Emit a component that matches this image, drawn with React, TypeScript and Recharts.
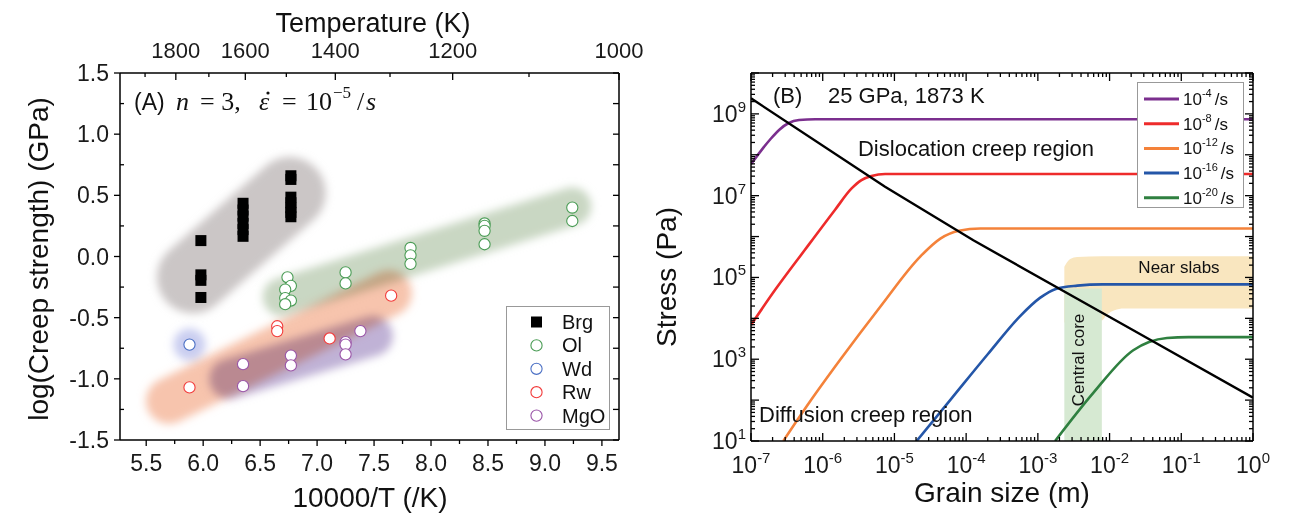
import React from 'react';
import { ComposedChart, Scatter, Line, Area, XAxis, YAxis, ReferenceArea } from 'recharts';

const FONT = '"Liberation Sans", Arial, sans-serif';
const SERIF = '"Liberation Serif", "Times New Roman", serif';

// ---------- Panel A: log(creep strength) vs 10000/T ----------
const brg = [
  { x: 5.98, y: 0.13 }, { x: 5.98, y: -0.15 }, { x: 5.98, y: -0.195 }, { x: 5.98, y: -0.335 },
  { x: 6.35, y: 0.435 }, { x: 6.35, y: 0.38 }, { x: 6.35, y: 0.33 }, { x: 6.35, y: 0.27 },
  { x: 6.35, y: 0.22 }, { x: 6.35, y: 0.165 },
  { x: 6.77, y: 0.66 }, { x: 6.77, y: 0.63 }, { x: 6.77, y: 0.485 }, { x: 6.77, y: 0.44 },
  { x: 6.77, y: 0.4 }, { x: 6.77, y: 0.36 }, { x: 6.77, y: 0.325 },
];
const ol = [
  { x: 6.74, y: -0.17 }, { x: 6.77, y: -0.24 }, { x: 6.72, y: -0.27 }, { x: 6.72, y: -0.34 },
  { x: 6.77, y: -0.36 }, { x: 6.72, y: -0.39 }, { x: 7.25, y: -0.13 }, { x: 7.25, y: -0.22 },
  { x: 7.82, y: 0.07 }, { x: 7.82, y: 0.01 }, { x: 7.82, y: -0.06 },
  { x: 8.47, y: 0.27 }, { x: 8.47, y: 0.25 }, { x: 8.47, y: 0.21 }, { x: 8.47, y: 0.1 },
  { x: 9.24, y: 0.4 }, { x: 9.24, y: 0.29 },
];
const wd = [{ x: 5.88, y: -0.72 }];
const rw = [
  { x: 5.88, y: -1.07 }, { x: 6.65, y: -0.57 }, { x: 6.65, y: -0.61 }, { x: 7.11, y: -0.67 }, { x: 7.65, y: -0.32 },
];
const mgo = [
  { x: 6.35, y: -0.88 }, { x: 6.35, y: -1.06 }, { x: 6.77, y: -0.81 }, { x: 6.77, y: -0.89 },
  { x: 7.25, y: -0.7 }, { x: 7.25, y: -0.72 }, { x: 7.25, y: -0.8 }, { x: 7.38, y: -0.61 },
];

// shaded trend bands (end points of each band)
const bandBrg = [{ x: 5.91, y: -0.17 }, { x: 6.76, y: 0.52 }];
const bandOl = [{ x: 6.69, y: -0.33 }, { x: 9.24, y: 0.41 }];
const bandRw = [{ x: 5.7, y: -1.18 }, { x: 7.63, y: -0.3 }];
const bandMgo = [{ x: 6.23, y: -1.0 }, { x: 7.49, y: -0.65 }];

const xTicksA = [5.5, 5.75, 6, 6.25, 6.5, 6.75, 7, 7.25, 7.5, 7.75, 8, 8.25, 8.5, 8.75, 9, 9.25, 9.5];
const yTicksA = [-1.5, -1.25, -1, -0.75, -0.5, -0.25, 0, 0.25, 0.5, 0.75, 1, 1.25, 1.5];
const tempTickPos = [5.49, 5.76, 6.05, 6.37, 6.73, 7.16, 7.64, 8.19, 8.86, 9.65];
const tempTickLabel = [1900, 1800, 1700, 1600, 1500, 1400, 1300, 1200, 1100, 1000];
const tempShown = [1800, 1600, 1400, 1200, 1000];

// ---------- Panel B: stress vs grain size ----------
const rate4 = [
  { d: 1e-7, s: 5.9e7 }, { d: 1.41e-7, s: 1.32e8 }, { d: 1.9e-7, s: 2.5e8 }, { d: 2.51e-7, s: 4.17e8 },
  { d: 3.31e-7, s: 5.9e8 }, { d: 4.68e-7, s: 7.1e8 }, { d: 7.9e-7, s: 7.4e8 }, { d: 1, s: 7.4e8 },
];
const rate8 = [
  { d: 1e-7, s: 6.9e3 }, { d: 2.16e-7, s: 4.9e4 }, { d: 5.62e-7, s: 4.68e5 }, { d: 1.48e-6, s: 4.47e6 },
  { d: 2.51e-6, s: 1.48e7 }, { d: 3.47e-6, s: 2.4e7 }, { d: 4.79e-6, s: 3.02e7 }, { d: 7.41e-6, s: 3.39e7 },
  { d: 1, s: 3.39e7 },
];
const rate12 = [
  { d: 2.82e-7, s: 10 }, { d: 6.61e-7, s: 91 }, { d: 1.74e-6, s: 955 }, { d: 6.31e-6, s: 1.9e4 },
  { d: 2.29e-5, s: 3.24e5 }, { d: 4.37e-5, s: 8.9e5 }, { d: 7.94e-5, s: 1.38e6 }, { d: 1.58e-4, s: 1.58e6 },
  { d: 1, s: 1.58e6 },
];
const rate16 = [
  { d: 2.04e-5, s: 10 }, { d: 6.31e-5, s: 112 }, { d: 2.0e-4, s: 1.32e3 }, { d: 5.62e-4, s: 1.12e4 },
  { d: 1.07e-3, s: 3.16e4 }, { d: 1.78e-3, s: 5.25e4 }, { d: 3.55e-3, s: 6.3e4 }, { d: 7.94e-3, s: 6.76e4 },
  { d: 1, s: 6.76e4 },
];
const rate20 = [
  { d: 1.74e-3, s: 10 }, { d: 5.89e-3, s: 148 }, { d: 2.14e-2, s: 1.66e3 }, { d: 3.55e-2, s: 2.63e3 },
  { d: 6.31e-2, s: 3.31e3 }, { d: 0.126, s: 3.47e3 }, { d: 1, s: 3.47e3 },
];
const boundary = [
  { d: 1e-7, s: 2.4e9 }, { d: 7.4e-6, s: 1.66e7 }, { d: 1.26e-4, s: 8.1e5 }, { d: 2.14e-2, s: 5.1e3 }, { d: 1, s: 115 },
];

const slabD = [2.34e-3, 2.82e-3, 3.55e-3, 7.76e-3, 9.33e-3, 1.17e-2, 1.58e-2, 1];
const slabLow = [7.9e3, 7.9e3, 7.9e3, 8.9e3, 1.26e4, 1.58e4, 1.74e4, 1.74e4];
const slabHigh = [1.82e5, 2.82e5, 3.16e5, 3.3e5, 3.3e5, 3.3e5, 3.3e5, 3.3e5];
const slabBand = slabD.map((d, i) => ({ d, band: [slabLow[i], slabHigh[i]] }));
const coreD = [2.34e-3, 7.8e-3];
const coreS = [10, 5.4e4];

const curves = [
  { key: '-4', data: rate4, color: '#7b2f8e' },
  { key: '-8', data: rate8, color: '#ee2b2b' },
  { key: '-12', data: rate12, color: '#f4823a' },
  { key: '-16', data: rate16, color: '#2456a8' },
  { key: '-20', data: rate20, color: '#2f8040' },
];

const decades = [1e-7, 1e-6, 1e-5, 1e-4, 1e-3, 1e-2, 1e-1, 1];
const yDecades = [1e1, 1e2, 1e3, 1e4, 1e5, 1e6, 1e7, 1e8, 1e9, 1e10];
const mantissas = [2, 3, 4, 5, 6, 7, 8, 9];
const xTicksB = [...decades, ...decades.slice(0, -1).flatMap((p) => mantissas.map((m) => m * p))];
const yTicksB = [...yDecades, ...yDecades.slice(0, -1).flatMap((p) => mantissas.map((m) => m * p))];
const yLabelExp = [1, 3, 5, 7, 9];

// ---------- tick renderers ----------
const isHalf = (v: number) => Math.abs(v * 2 - Math.round(v * 2)) < 1e-6;
const expOf = (v: number) => Math.round(Math.log10(v));
const isDecade = (v: number) => Math.abs(Math.log10(v) - expOf(v)) < 1e-6;

const BottomTickA = ({ x, y, payload }: any) => {
  const v = payload.value;
  const major = isHalf(v);
  return (
    <g>
      <line x1={x} x2={x} y1={y} y2={y + (major ? 6 : 4)} stroke="#000" strokeWidth={1.3} />
      {major && (
        <text x={x} y={y + 31} textAnchor="middle" fontSize={23} fontFamily={FONT} fill="#1a1a1a">
          {v.toFixed(1)}
        </text>
      )}
    </g>
  );
};
const LeftTickA = ({ x, y, payload }: any) => {
  const v = payload.value;
  const major = isHalf(v);
  return (
    <g>
      {major ? (
        <line x1={x} x2={x - 6} y1={y} y2={y} stroke="#000" strokeWidth={1.3} />
      ) : (
        <line x1={x} x2={x + 4} y1={y} y2={y} stroke="#000" strokeWidth={1.3} />
      )}
      {major && (
        <text x={x - 11} y={y + 8} textAnchor="end" fontSize={23} fontFamily={FONT} fill="#1a1a1a">
          {v.toFixed(1)}
        </text>
      )}
    </g>
  );
};
const RightTickA = ({ x, y }: any) => (
  <line x1={x} x2={x - 6} y1={y} y2={y} stroke="#000" strokeWidth={1.3} />
);
const TopTickA = ({ x, y, payload }: any) => {
  const i = tempTickPos.indexOf(payload.value);
  const label = tempTickLabel[i];
  const shown = tempShown.includes(label);
  return (
    <g>
      <line x1={x} x2={x} y1={y} y2={y + (shown ? 7 : 4)} stroke="#000" strokeWidth={1.3} />
      {shown && (
        <text x={x} y={y - 15} textAnchor="middle" fontSize={22} fontFamily={FONT} fill="#1a1a1a">
          {label}
        </text>
      )}
    </g>
  );
};

const BottomTickB = ({ x, y, payload }: any) => {
  const v = payload.value;
  const major = isDecade(v);
  return (
    <g>
      <line x1={x} x2={x} y1={y} y2={y - (major ? 8 : 4)} stroke="#000" strokeWidth={1.3} />
      {major && (
        <text x={x} y={y + 32} textAnchor="middle" fontSize={23} fontFamily={FONT} fill="#1a1a1a">
          10
          <tspan dy={-10} fontSize={15}>
            {expOf(v)}
          </tspan>
        </text>
      )}
    </g>
  );
};
const TopTickB = ({ x, y, payload }: any) => {
  const major = isDecade(payload.value);
  return <line x1={x} x2={x} y1={y} y2={y + (major ? 8 : 4)} stroke="#000" strokeWidth={1.3} />;
};
const LeftTickB = ({ x, y, payload }: any) => {
  const v = payload.value;
  const major = isDecade(v);
  const e = expOf(v);
  return (
    <g>
      <line x1={x} x2={x + (major ? 8 : 4)} y1={y} y2={y} stroke="#000" strokeWidth={1.3} />
      {major && yLabelExp.includes(e) && (
        <text x={x - 5} y={y + 8} textAnchor="end" fontSize={23} fontFamily={FONT} fill="#1a1a1a">
          10
          <tspan dy={-10} fontSize={15}>
            {e}
          </tspan>
        </text>
      )}
    </g>
  );
};
const RightTickB = ({ x, y, payload }: any) => {
  const major = isDecade(payload.value);
  return <line x1={x} x2={x - (major ? 8 : 4)} y1={y} y2={y} stroke="#000" strokeWidth={1.3} />;
};

const axisLine = { stroke: '#000', strokeWidth: 1.5 };

const square = (p: any) => <rect x={p.cx - 5.5} y={p.cy - 5.5} width={11} height={11} fill="#000" />;
const ring = (color: string) => (p: any) => (
  <circle cx={p.cx} cy={p.cy} r={5.6} fill="#fff" stroke={color} strokeWidth={1.1} />
);

const legendA = [
  { name: 'Brg', color: '#000', filled: true },
  { name: 'Ol', color: '#4a9c55', filled: false },
  { name: 'Wd', color: '#4a6fc4', filled: false },
  { name: 'Rw', color: '#f23b3b', filled: false },
  { name: 'MgO', color: '#9a55a8', filled: false },
];

function PanelA() {
  const blob = (data: any[], color: string, width: number) => (
    <Line
      xAxisId="b"
      yAxisId="l"
      data={data}
      dataKey="y"
      stroke={color}
      strokeWidth={width}
      dot={false}
      activeDot={false}
      className="blob"
      isAnimationActive={false}
    />
  );
  return (
    <div style={{ position: 'relative', width: 660, height: 522 }}>
      <ComposedChart width={660} height={522} margin={{ top: 33, right: 40, bottom: 22, left: 60 }}>
        <XAxis xAxisId="b" dataKey="x" type="number" domain={[5.27, 9.65]} allowDataOverflow ticks={xTicksA}
          interval={0} tickSize={0} tickMargin={0} tickLine={false} tick={(p: any) => <BottomTickA {...p} />}
          height={60} axisLine={axisLine} />
        <XAxis xAxisId="t" dataKey="x" orientation="top" type="number" domain={[5.27, 9.65]} allowDataOverflow
          ticks={tempTickPos} interval={0} tickSize={0} tickMargin={0} tickLine={false}
          tick={(p: any) => <TopTickA {...p} />} height={40} axisLine={axisLine} />
        <YAxis yAxisId="l" dataKey="y" type="number" domain={[-1.5, 1.5]} allowDataOverflow ticks={yTicksA}
          interval={0} tickSize={0} tickMargin={0} tickLine={false} tick={(p: any) => <LeftTickA {...p} />}
          width={60} axisLine={axisLine} />
        <YAxis yAxisId="r" dataKey="y" orientation="right" type="number" domain={[-1.5, 1.5]} allowDataOverflow
          ticks={yTicksA} interval={0} tickSize={0} tickMargin={0} tickLine={false}
          tick={(p: any) => <RightTickA {...p} />} width={1} axisLine={axisLine} />
        {blob(bandBrg, '#cbc6c6', 72)}
        {blob(bandOl, '#c9d7c3', 38)}
        {blob(bandRw, '#f7c4ad', 46)}
        {blob(bandMgo, '#c0b2d6', 40)}
        <Scatter xAxisId="b" yAxisId="l" data={wd} className="blob" isAnimationActive={false}
          shape={(p: any) => <circle cx={p.cx} cy={p.cy} r={16} fill="#c9cdf0" />} />
        <Scatter xAxisId="b" yAxisId="l" data={brg} shape={square} isAnimationActive={false} />
        <Scatter xAxisId="b" yAxisId="l" data={ol} shape={ring('#4a9c55')} isAnimationActive={false} />
        <Scatter xAxisId="b" yAxisId="l" data={wd} shape={ring('#4a6fc4')} isAnimationActive={false} />
        <Scatter xAxisId="b" yAxisId="l" data={rw} shape={ring('#f23b3b')} isAnimationActive={false} />
        <Scatter xAxisId="b" yAxisId="l" data={mgo} shape={ring('#9a55a8')} isAnimationActive={false} />
        {/* hidden series so the mirrored top / right axes get a domain */}
        <Line xAxisId="t" yAxisId="r" data={ol} dataKey="y" stroke="none" dot={false} activeDot={false}
          legendType="none" isAnimationActive={false} />
      </ComposedChart>
      <svg width={660} height={522} style={{ position: 'absolute', left: 0, top: 0, pointerEvents: 'none' }}>
        <text x={373} y={32} textAnchor="middle" fontSize={27} fontFamily={FONT} fill="#111">Temperature (K)</text>
        <text x={370} y={507} textAnchor="middle" fontSize={28} fontFamily={FONT} fill="#111">10000/T (/K)</text>
        <text x={38} y={259} textAnchor="middle" dominantBaseline="central" fontSize={28} fontFamily={FONT}
          fill="#111" transform="rotate(-90 38 259)">log(Creep strength) (GPa)</text>
        <g fill="#111" fontSize={26} fontFamily={SERIF}>
          <text x={134} y={110} fontSize={23} fontFamily={FONT}>(A)</text>
          <text x={176} y={110} fontStyle="italic">n</text>
          <text x={200} y={110}>= 3,</text>
          <text x={259} y={110} fontStyle="italic">ε</text>
          <circle cx={268} cy={93} r={1.6} fill="#111" />
          <text x={282} y={110}>=</text>
          <text x={306} y={110}>10</text>
          <text x={333} y={98} fontSize={17}>−5</text>
          <text x={357} y={110}>/</text>
          <text x={366} y={110} fontStyle="italic">s</text>
        </g>
      </svg>
      <div style={{ position: 'absolute', left: 506, top: 306, width: 104, height: 124, border: '1.5px solid #999',
        background: '#fff', boxSizing: 'border-box' }}>
        <svg width={101} height={121} style={{ position: 'absolute', left: 0, top: 0 }}>
          {legendA.map((e, i) => {
            const cy = 15 + i * 23.4;
            return (
              <g key={e.name}>
                {e.filled ? (
                  <rect x={24} y={cy - 5.5} width={11} height={11} fill="#000" />
                ) : (
                  <circle cx={29.5} cy={cy} r={5.6} fill="#fff" stroke={e.color} strokeWidth={1.1} />
                )}
                <text x={55} y={cy + 7} fontSize={20} fontFamily={FONT} fill="#111">{e.name}</text>
              </g>
            );
          })}
        </svg>
      </div>
    </div>
  );
}

function PanelB() {
  return (
    <div style={{ position: 'relative', width: 651, height: 522 }}>
      <ComposedChart width={651} height={522} margin={{ top: 72, right: 37, bottom: 21, left: 51 }}>
        <XAxis xAxisId="b" dataKey="d" type="number" scale="log" domain={[1e-7, 1]} allowDataOverflow ticks={xTicksB}
          interval={0} tickSize={0} tickMargin={0} tickLine={false} tick={(p: any) => <BottomTickB {...p} />}
          height={60} axisLine={axisLine} />
        <XAxis xAxisId="t" dataKey="d" orientation="top" type="number" scale="log" domain={[1e-7, 1]} allowDataOverflow
          ticks={xTicksB} interval={0} tickSize={0} tickMargin={0} tickLine={false}
          tick={(p: any) => <TopTickB {...p} />} height={1} axisLine={axisLine} />
        <YAxis yAxisId="l" dataKey="s" type="number" scale="log" domain={[10, 1e10]} allowDataOverflow ticks={yTicksB}
          interval={0} tickSize={0} tickMargin={0} tickLine={false} tick={(p: any) => <LeftTickB {...p} />}
          width={60} axisLine={axisLine} />
        <YAxis yAxisId="r" dataKey="s" orientation="right" type="number" scale="log" domain={[10, 1e10]}
          allowDataOverflow ticks={yTicksB} interval={0} tickSize={0} tickMargin={0} tickLine={false}
          tick={(p: any) => <RightTickB {...p} />} width={1} axisLine={axisLine} />
        <Area xAxisId="b" yAxisId="l" data={slabBand} dataKey="band" type="monotone" fill="#f9e6bf" fillOpacity={1}
          stroke="none" isAnimationActive={false} activeDot={false} />
        <ReferenceArea xAxisId="b" yAxisId="l" x1={coreD[0]} x2={coreD[1]} y1={coreS[0]} y2={coreS[1]}
          fill="#d6e9d2" fillOpacity={1} stroke="none" />
        {curves.map((c) => (
          <Line key={c.key} xAxisId="b" yAxisId="l" data={c.data} dataKey="s" type="monotone" stroke={c.color}
            strokeWidth={2.6} dot={false} activeDot={false} isAnimationActive={false} />
        ))}
        <Line xAxisId="b" yAxisId="l" data={boundary} dataKey="s" type="linear" stroke="#000" strokeWidth={2.4}
          dot={false} activeDot={false} isAnimationActive={false} />
        {/* hidden series so the mirrored top / right axes get a domain */}
        <Line xAxisId="t" yAxisId="r" data={boundary} dataKey="s" stroke="none" dot={false} activeDot={false}
          legendType="none" isAnimationActive={false} />
      </ComposedChart>
      <svg width={651} height={522} style={{ position: 'absolute', left: 0, top: 0, pointerEvents: 'none' }}>
        <text x={26} y={277} textAnchor="middle" dominantBaseline="central" fontSize={28} fontFamily={FONT}
          fill="#111" transform="rotate(-90 26 277)">Stress (Pa)</text>
        <text x={362} y={502} textAnchor="middle" fontSize={28} fontFamily={FONT} fill="#111">Grain size (m)</text>
        <text x={133} y={103} fontSize={22} fontFamily={FONT} fill="#111">(B)</text>
        <text x={188} y={103} fontSize={22} fontFamily={FONT} fill="#111">25 GPa, 1873 K</text>
        <text x={336} y={156} textAnchor="middle" fontSize={22} fontFamily={FONT} fill="#111">Dislocation creep region</text>
        <text x={119} y={422} fontSize={22} fontFamily={FONT} fill="#111">Diffusion creep region</text>
        <text x={539} y={273} textAnchor="middle" fontSize={17} fontFamily={FONT} fill="#111">Near slabs</text>
        <text x={438} y={360} textAnchor="middle" dominantBaseline="central" fontSize={17} fontFamily={FONT}
          fill="#111" transform="rotate(-90 438 360)">Central core</text>
      </svg>
      <div style={{ position: 'absolute', left: 497, top: 82, width: 107, height: 126, border: '1.5px solid #999',
        background: '#fff', boxSizing: 'border-box' }}>
        <svg width={104} height={123} style={{ position: 'absolute', left: 0, top: 0, overflow: 'visible' }}>
          {curves.map((c, i) => {
            const cy = 16 + i * 24.7;
            return (
              <g key={c.key}>
                <line x1={6} x2={41} y1={cy} y2={cy} stroke={c.color} strokeWidth={3} />
                <text x={45} y={cy + 6} fontSize={17} fontFamily={FONT} fill="#111">
                  10
                  <tspan dy={-8} fontSize={11}>{c.key}</tspan>
                  <tspan dy={8} dx={3}>/s</tspan>
                </text>
              </g>
            );
          })}
        </svg>
      </div>
    </div>
  );
}

export default function App() {
  return (
    <div style={{ position: 'absolute', left: 0, top: 0, width: 1291, height: 522, background: '#fff', fontFamily: FONT }}>
      <style>{`
        .blob { filter: url(#blobBlur); mix-blend-mode: multiply; }
        .blob path { stroke-linecap: round; }
      `}</style>
      <svg width={0} height={0} style={{ position: 'absolute' }}>
        <defs>
          <filter id="blobBlur" filterUnits="userSpaceOnUse" x={0} y={0} width={1400} height={600}>
            <feGaussianBlur stdDeviation={4} />
          </filter>
        </defs>
      </svg>
      <div style={{ position: 'absolute', left: 0, top: 0 }}>
        <PanelA />
      </div>
      <div style={{ position: 'absolute', left: 640, top: 0 }}>
        <PanelB />
      </div>
    </div>
  );
}
